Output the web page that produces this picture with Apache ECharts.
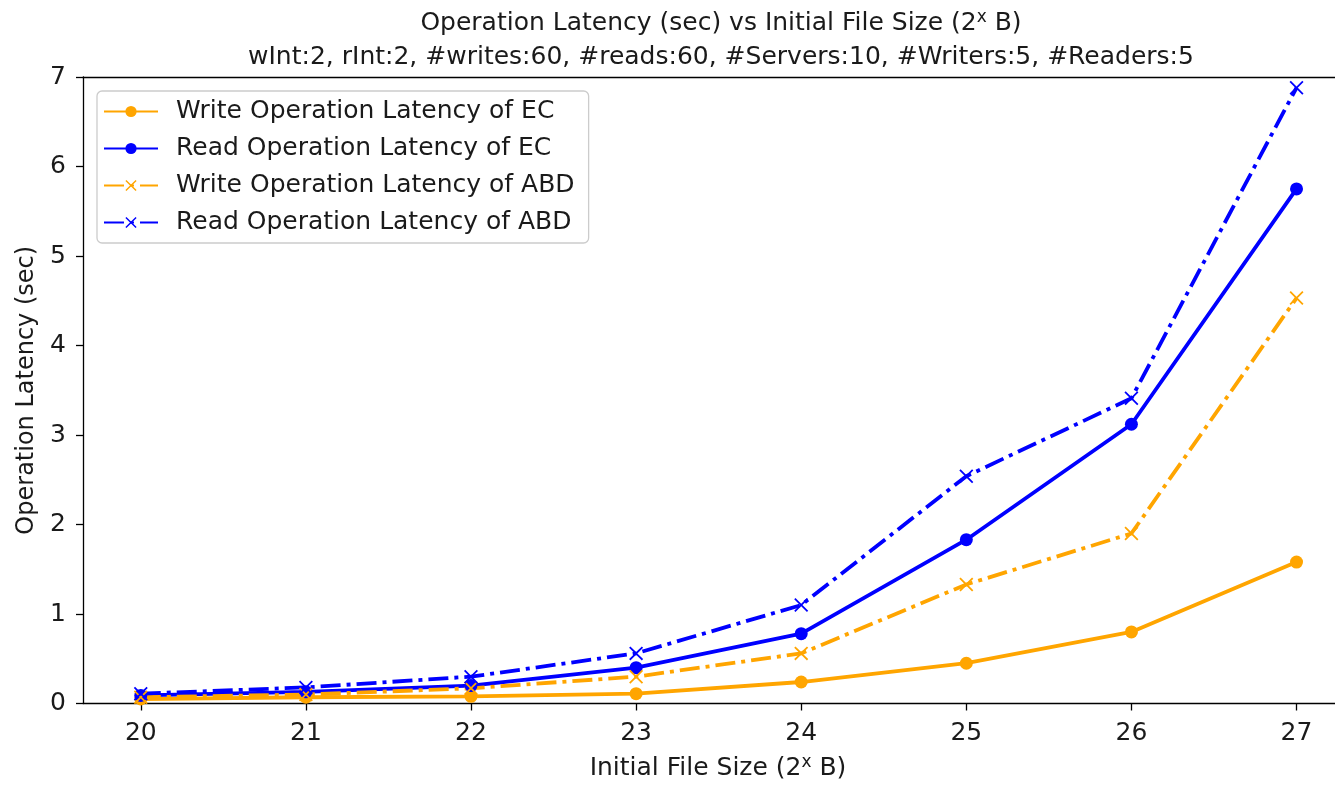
<!DOCTYPE html>
<html>
<head>
<meta charset="utf-8">
<script src="https://cdn.jsdelivr.net/npm/echarts@6/dist/echarts.min.js"></script>
<style>
html,body{margin:0;padding:0;background:#fff;}
#chart{width:1335px;height:786px;}
</style>
</head>
<body>
<div id="chart"></div>
<script>
// ---- data ----
const fileSizeExp = [20, 21, 22, 23, 24, 25, 26, 27];
const writeEC  = [0.05, 0.07, 0.08, 0.11, 0.24, 0.45, 0.80, 1.58];
const readEC   = [0.09, 0.13, 0.20, 0.40, 0.78, 1.83, 3.12, 5.75];
const writeABD = [0.07, 0.10, 0.17, 0.30, 0.56, 1.33, 1.90, 4.53];
const readABD  = [0.11, 0.18, 0.30, 0.56, 1.10, 2.54, 3.41, 6.88];
const seriesNames = [
  'Write Operation Latency of EC',
  'Read Operation Latency of EC',
  'Write Operation Latency of ABD',
  'Read Operation Latency of ABD'
];
const yTicks = [0, 1, 2, 3, 4, 5, 6, 7];

const ORANGE = '#FFA500';
const BLUE = '#0000FF';
const FONT = 'DejaVu Sans';
const TXT = '#1a1a1a';
const FS = 25;
const XMARK = 'path://M0,9L9,0L50,41L91,0L100,9L59,50L100,91L91,100L50,59L9,100L0,91L41,50Z';

function pairs(vals) { return fileSizeExp.map((x, i) => [x, vals[i]]); }
const dashDot = [20, 6, 4, 6];

function mk(name, vals, color, isABD) {
  return {
    name: name,
    type: 'line',
    xAxisIndex: 0,
    data: pairs(vals),
    symbol: isABD ? XMARK : 'circle',
    symbolSize: isABD ? 14 : 13,
    showSymbol: true,
    color: color,
    itemStyle: { color: color, borderWidth: 0 },
    lineStyle: { color: color, width: 3.8, type: isABD ? dashDot : 'solid' },
    emphasis: { disabled: true },
    animation: false
  };
}

const chart = echarts.init(document.getElementById('chart'), null, { renderer: 'canvas' });
const supRich = {
  a: { fontFamily: FONT, fontSize: FS, fontWeight: 'normal', color: TXT },
  sup: { fontFamily: FONT, fontSize: 17, fontWeight: 'normal', color: TXT, verticalAlign: 'top', padding: [0, 0, 11, 0] }
};
chart.setOption({
  backgroundColor: '#fff',
  animation: false,
  title: [
    {
      text: '{a|Operation Latency (sec) vs Initial File Size (2}{sup|x}{a| B)}',
      left: 716, top: 4, textAlign: 'center',
      textStyle: { fontWeight: 'normal', rich: supRich }
    },
    {
      text: 'wInt:2, rInt:2, #writes:60, #reads:60, #Servers:10, #Writers:5, #Readers:5',
      left: 716, top: 40, textAlign: 'center',
      textStyle: { fontFamily: FONT, fontSize: FS, fontWeight: 'normal', color: TXT }
    }
  ],
  legend: {
    orient: 'vertical',
    left: 97, top: 91,
    padding: [8, 14, 8, 6],
    itemWidth: 54, itemHeight: 14, itemGap: 12,
    borderColor: '#cccccc', borderWidth: 1.3, borderRadius: 5,
    backgroundColor: 'rgba(255,255,255,0.8)',
    textStyle: { fontFamily: FONT, fontSize: FS, color: TXT, padding: [0, 0, 0, 13] },
    data: seriesNames
  },
  grid: {
    left: 83, top: 77, bottom: 79, right: 0,
    show: false
  },
  xAxis: [
    {
      type: 'value',
      position: 'bottom',
      min: 19.65, max: 27.233,
      name: '{a|Initial File Size (2}{sup|x}{a| B)}',
      nameLocation: 'middle', nameGap: 51,
      nameTextStyle: { rich: supRich, padding: [0, 0, 0, 18] },
      axisLine: { show: true, onZero: false, lineStyle: { color: '#000', width: 1.3 } },
      axisTick: { show: true, inside: false, length: 7, customValues: fileSizeExp, lineStyle: { color: '#000', width: 1.3 } },
      axisLabel: { customValues: fileSizeExp, margin: 17, fontFamily: FONT, fontSize: FS, color: TXT },
      splitLine: { show: false }
    },
    {
      type: 'value',
      position: 'top',
      min: 19.65, max: 27.233,
      axisLine: { show: true, onZero: false, lineStyle: { color: '#000', width: 1.3 } },
      axisTick: { show: false },
      axisLabel: { show: false },
      splitLine: { show: false }
    }
  ],
  yAxis: {
    type: 'value',
    min: 0, max: 7, interval: 1,
    name: 'Operation Latency (sec)',
    nameLocation: 'middle', nameGap: 44,
    nameTextStyle: { fontFamily: FONT, fontSize: 24, color: TXT },
    axisLine: { show: true, lineStyle: { color: '#000', width: 1.3 } },
    axisTick: { show: true, inside: false, length: 7, lineStyle: { color: '#000', width: 1.3 } },
    axisLabel: { margin: 17, fontFamily: FONT, fontSize: FS, color: TXT, formatter: v => String(v) },
    splitLine: { show: false }
  },
  series: [
    mk(seriesNames[0], writeEC, ORANGE, false),
    mk(seriesNames[1], readEC, BLUE, false),
    mk(seriesNames[2], writeABD, ORANGE, true),
    mk(seriesNames[3], readABD, BLUE, true)
  ]
});
</script>
</body>
</html>
